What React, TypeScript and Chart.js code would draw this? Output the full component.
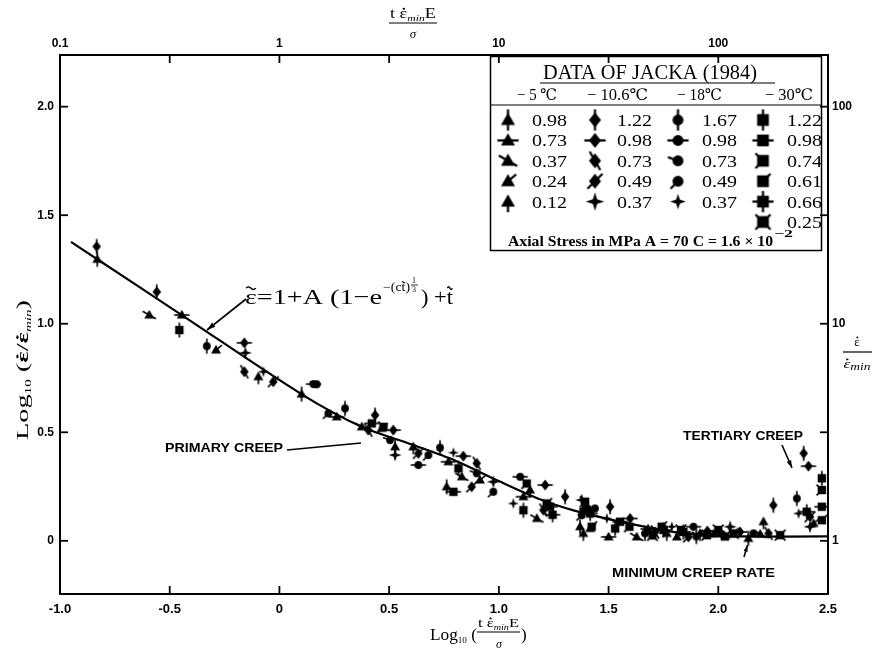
import React, { useEffect, useRef } from 'react';
import { Chart, registerables } from 'chart.js';
Chart.register(...registerables);

// ---------- axes ----------
const xMin = -1.0;
const xMax = 2.5;
const yMin = -0.245;
const yMax = 2.238;
const xTickValues = [-1.0, -0.5, 0, 0.5, 1.0, 1.5, 2.0, 2.5];
const xTickLabels = ['-1.0', '-0.5', '0', '0.5', '1.0', '1.5', '2.0', '2.5'];
const topTickLabels = ['0.1', '', '1', '', '10', '', '100', ''];
const yTickValues = [0, 0.5, 1.0, 1.5, 2.0];
const yTickLabels = ['0', '0.5', '1.0', '1.5', '2.0'];
const rightTickLabels = ['1', '', '10', '', '100'];

// ---------- fitted curve  ε̃ = 1 + A(1 − e^{−(Ct̃)^{1/3}}) + t̃ ----------
const fitX = [-0.95, -0.83, -0.445, 0.1, 0.375, 0.6, 0.8, 1.0, 1.19, 1.34, 1.5, 1.675, 1.8, 1.95, 2.1, 2.5];
const fitY = [1.377, 1.297, 1.04, 0.676, 0.525, 0.445, 0.37, 0.275, 0.19, 0.14, 0.1, 0.063, 0.04, 0.025, 0.02, 0.02];

// ---------- data of Jacka (1984): [log10(t·ε̇min·E/σ), log10(ε̇/ε̇min)] ----------
// -5 ℃
const m5_098 = [[-0.83, 1.297], [0.101, 0.676], [0.527, 0.433], [0.762, 0.249], [1.37, 0.065], [1.765, 0.034], [2.137, 0.011]];
const m5_073 = [[-0.445, 1.04], [0.261, 0.571], [0.77, 0.364], [1.112, 0.203], [1.5, 0.018], [1.978, 0.031], [1.68, 0.055]];
const m5_037 = [[-0.593, 1.04], [0.375, 0.525], [0.831, 0.295], [1.173, 0.103], [1.628, 0.018], [2.191, 0.031]];
const m5_024 = [[-0.289, 0.879], [0.466, 0.518], [0.914, 0.28], [1.416, 0.057], [1.811, 0.018], [2.434, 0.08]];
const m5_012 = [[-0.096, 0.756], [0.61, 0.433], [1.142, 0.234], [1.385, 0.034], [1.917, 0.034], [2.206, 0.088]];
// -10.6 ℃
const m106_122 = [[-0.833, 1.356], [-0.559, 1.147], [0.436, 0.579], [1.302, 0.203], [1.507, 0.157], [2.251, 0.164], [2.389, 0.403]];
const m106_098 = [[-0.16, 0.912], [0.519, 0.51], [0.838, 0.39], [1.211, 0.257], [1.598, 0.103], [2.099, 0.041], [2.411, 0.344], [1.95, 0.045]];
const m106_073 = [[-0.16, 0.779], [0.405, 0.51], [0.899, 0.357], [1.203, 0.141], [1.712, 0.041], [2.229, 0.034]];
const m106_049 = [[-0.028, 0.733], [0.633, 0.403], [0.876, 0.249], [1.385, 0.141], [1.864, 0.018], [2.418, 0.111]];
const m106_037 = [[-0.155, 0.866], [0.527, 0.395], [0.975, 0.272], [1.378, 0.188], [2.054, 0.065], [2.418, 0.065]];
// -18 ℃
const m18_167 = [[-0.331, 0.897], [0.299, 0.61], [0.732, 0.429], [1.666, 0.034], [2.358, 0.195], [1.9, 0.02]];
const m18_098 = [[0.155, 0.722], [0.633, 0.349], [1.097, 0.295], [1.4, 0.149], [1.887, 0.065]];
const m18_073 = [[0.17, 0.721], [0.504, 0.464], [0.899, 0.311], [1.438, 0.149], [2.016, 0.031]];
const m18_049 = [[0.223, 0.587], [0.679, 0.395], [0.975, 0.226], [1.378, 0.118], [2.16, 0.034]];
const m18_037 = [[-0.073, 0.779], [0.793, 0.406], [1.066, 0.172], [1.492, 0.103], [1.788, 0.065], [2.366, 0.126]];
// -30 ℃
const m30_122 = [[-0.456, 0.971], [0.816, 0.334], [1.112, 0.141], [1.53, 0.057], [2.472, 0.288]];
const m30_098 = [[0.421, 0.541], [0.793, 0.226], [1.233, 0.157], [1.552, 0.088], [2.472, 0.157]];
const m30_074 = [[0.474, 0.525], [1.127, 0.264], [1.393, 0.18], [1.595, 0.065], [1.948, 0.026], [2.472, 0.234]];
const m30_061 = [[1.218, 0.172], [1.423, 0.065], [1.742, 0.065], [2.472, 0.095], [2.03, 0.02]];
const m30_066 = [[1.245, 0.12], [1.416, 0.126], [1.841, 0.041], [2.403, 0.134], [1.75, 0.05]];
const m30_025 = [[2.069, 0.034], [2.282, 0.026], [1.7, 0.025], [1.83, 0.05], [2.0, 0.05]];

const temperatures = ['− 5 ℃', '− 10.6℃', '− 18℃', '− 30℃'];

const SERIES = [
  { col: 0, label: '0.98', shape: 'tri', spikes: [90, 270], data: m5_098 },
  { col: 0, label: '0.73', shape: 'tri', spikes: [0, 180], data: m5_073 },
  { col: 0, label: '0.37', shape: 'tri', spikes: [150, 330], data: m5_037 },
  { col: 0, label: '0.24', shape: 'tri', spikes: [40], data: m5_024 },
  { col: 0, label: '0.12', shape: 'tri', spikes: [270], data: m5_012 },
  { col: 1, label: '1.22', shape: 'dia', spikes: [90, 270], data: m106_122 },
  { col: 1, label: '0.98', shape: 'dia', spikes: [0, 180], data: m106_098 },
  { col: 1, label: '0.73', shape: 'dia', spikes: [120, 300], data: m106_073 },
  { col: 1, label: '0.49', shape: 'dia', spikes: [45, 225], data: m106_049 },
  { col: 1, label: '0.37', shape: 'star', spikes: [], data: m106_037 },
  { col: 2, label: '1.67', shape: 'circ', spikes: [90, 270], data: m18_167 },
  { col: 2, label: '0.98', shape: 'circ', spikes: [0, 180], data: m18_098 },
  { col: 2, label: '0.73', shape: 'circ', spikes: [160], data: m18_073 },
  { col: 2, label: '0.49', shape: 'circ', spikes: [225], data: m18_049 },
  { col: 2, label: '0.37', shape: 'starS', spikes: [], data: m18_037 },
  { col: 3, label: '1.22', shape: 'sq', spikes: [90, 270], data: m30_122 },
  { col: 3, label: '0.98', shape: 'sq', spikes: [0, 180], data: m30_098 },
  { col: 3, label: '0.74', shape: 'sq', spikes: [135, 225], data: m30_074 },
  { col: 3, label: '0.61', shape: 'sq', spikes: [45], data: m30_061 },
  { col: 3, label: '0.66', shape: 'sq', spikes: [0, 90, 180, 270], data: m30_066 },
  { col: 3, label: '0.25', shape: 'sq', spikes: [45, 135, 225, 315], data: m30_025 },
];

const SERIF = '"Liberation Serif", "DejaVu Serif", serif';
const SANS = '"Liberation Sans", "DejaVu Sans", sans-serif';

function makeMarker(shape: string, spikes: number[], k: number) {
  const size = Math.ceil(22 * k);
  const c = document.createElement('canvas');
  c.width = size;
  c.height = size;
  const g = c.getContext('2d') as CanvasRenderingContext2D;
  g.translate(size / 2, size / 2);
  g.scale(k, k);
  g.fillStyle = '#000';
  g.strokeStyle = '#000';
  g.lineWidth = 1.6;
  g.beginPath();
  if (shape === 'tri') {
    g.moveTo(0, -5.2); g.lineTo(5, 3.6); g.lineTo(-5, 3.6); g.closePath();
  } else if (shape === 'dia') {
    g.moveTo(0, -5.4); g.lineTo(4.3, 0); g.lineTo(0, 5.4); g.lineTo(-4.3, 0); g.closePath();
  } else if (shape === 'star' || shape === 'starS') {
    const R = shape === 'star' ? 6.6 : 5.6;
    const r = shape === 'star' ? 2.2 : 1.9;
    for (let i = 0; i < 8; i++) {
      const a = (i * Math.PI) / 4 - Math.PI / 2;
      const rr = i % 2 === 0 ? R : r;
      const px = Math.cos(a) * rr, py = Math.sin(a) * rr;
      if (i === 0) g.moveTo(px, py); else g.lineTo(px, py);
    }
    g.closePath();
  } else if (shape === 'circ') {
    g.arc(0, 0, 3.9, 0, Math.PI * 2);
  } else {
    g.rect(-4.2, -4.2, 8.4, 8.4);
  }
  g.fill();
  spikes.forEach((deg) => {
    const a = (deg * Math.PI) / 180;
    g.beginPath();
    g.moveTo(0, 0);
    g.lineTo(Math.cos(a) * 7.6, -Math.sin(a) * 7.6);
    g.stroke();
  });
  return c;
}

type Seg = { t: string; f: string; dy?: number; mark?: string };
function drawSegs(ctx: CanvasRenderingContext2D, segs: Seg[], x: number, y: number, w?: number, align?: string) {
  let total = 0;
  const ws = segs.map((s) => {
    ctx.font = s.f;
    const m = ctx.measureText(s.t).width;
    total += m;
    return m;
  });
  const k = w ? w / total : 1;
  let sx = x;
  if (align === 'center') sx = x - (total * k) / 2;
  ctx.save();
  ctx.translate(sx, y);
  ctx.scale(k, 1);
  ctx.textAlign = 'left';
  ctx.textBaseline = 'alphabetic';
  let cx = 0;
  segs.forEach((s, i) => {
    ctx.font = s.f;
    const dy = s.dy || 0;
    ctx.fillText(s.t, cx, dy);
    const fm = /(\d+(?:\.\d+)?)px/.exec(s.f);
    const fs = fm ? parseFloat(fm[1]) : 14;
    if (s.mark === 'dot') {
      ctx.beginPath();
      ctx.arc(cx + ws[i] * 0.55, dy - fs * 0.66, Math.max(0.9, fs * 0.07), 0, Math.PI * 2);
      ctx.fill();
    } else if (s.mark === 'tilde') {
      const x0 = cx + ws[i] * 0.1, x1 = cx + ws[i] * 0.9, yy = dy - fs * 0.72, amp = fs * 0.06;
      ctx.save();
      ctx.lineWidth = Math.max(0.9, fs * 0.06);
      ctx.beginPath();
      for (let j = 0; j <= 12; j++) {
        const px = x0 + ((x1 - x0) * j) / 12;
        const py = yy - Math.sin((j / 12) * Math.PI * 2) * amp;
        if (j === 0) ctx.moveTo(px, py); else ctx.lineTo(px, py);
      }
      ctx.stroke();
      ctx.restore();
    }
    cx += ws[i];
  });
  ctx.restore();
}
function fitText(ctx: CanvasRenderingContext2D, t: string, x: number, y: number, w: number, f: string) {
  drawSegs(ctx, [{ t, f }], x, y, w);
}
function line(ctx: CanvasRenderingContext2D, x1: number, y1: number, x2: number, y2: number) {
  ctx.beginPath(); ctx.moveTo(x1, y1); ctx.lineTo(x2, y2); ctx.stroke();
}
function arrow(ctx: CanvasRenderingContext2D, x1: number, y1: number, x2: number, y2: number, hl: number) {
  line(ctx, x1, y1, x2, y2);
  const a = Math.atan2(y2 - y1, x2 - x1);
  ctx.beginPath();
  ctx.moveTo(x2, y2);
  ctx.lineTo(x2 - hl * Math.cos(a - 0.3), y2 - hl * Math.sin(a - 0.3));
  ctx.lineTo(x2 - hl * Math.cos(a + 0.3), y2 - hl * Math.sin(a + 0.3));
  ctx.closePath();
  ctx.fill();
}

export default function App() {
  const ref = useRef<HTMLCanvasElement | null>(null);
  useEffect(() => {
    if (!ref.current) return;
    const plotMarkers = SERIES.map((s) => makeMarker(s.shape, s.spikes, 1));
    const legendMarkers = SERIES.map((s) => makeMarker(s.shape, s.spikes, 1.4));

    const decor = {
      id: 'decor',
      beforeDraw(chart: any) {
        const c = chart.ctx;
        c.save();
        c.fillStyle = '#fff';
        c.fillRect(0, 0, chart.width, chart.height);
        c.restore();
      },
      afterDraw(chart: any) {
        const ctx: CanvasRenderingContext2D = chart.ctx;
        const a = chart.chartArea;
        const sc = chart.scales;
        ctx.save();
        ctx.strokeStyle = '#000';
        ctx.fillStyle = '#000';
        ctx.lineWidth = 1.8;
        // inward tick marks
        sc.x.ticks.forEach((t: any) => { const p = sc.x.getPixelForValue(t.value); line(ctx, p, a.bottom, p, a.bottom - 8); });
        sc.x2.ticks.forEach((t: any) => { const p = sc.x2.getPixelForValue(t.value); line(ctx, p, a.top, p, a.top + 8); });
        sc.y.ticks.forEach((t: any) => { const p = sc.y.getPixelForValue(t.value); line(ctx, a.left, p, a.left + 8, p); });
        sc.y2.ticks.forEach((t: any) => { const p = sc.y2.getPixelForValue(t.value); line(ctx, a.right, p, a.right - 8, p); });

        // ---- axis titles ----
        // top
        drawSegs(ctx, [
          { t: 't ', f: `14px ${SERIF}` }, { t: 'ε', f: `14px ${SERIF}`, mark: 'dot' },
          { t: 'min', f: `italic 9px ${SERIF}`, dy: 3 }, { t: 'E', f: `14px ${SERIF}` },
        ], 390, 18, 46);
        ctx.lineWidth = 1.2;
        line(ctx, 389, 23, 437, 23);
        drawSegs(ctx, [{ t: 'σ', f: `italic 13px ${SERIF}` }], 413, 38, undefined, 'center');
        // bottom
        drawSegs(ctx, [
          { t: 'Log', f: `17px ${SERIF}` }, { t: '10', f: `9px ${SERIF}`, dy: 3 },
          { t: ' (', f: `17px ${SERIF}` },
        ], 430, 640, 47);
        drawSegs(ctx, [
          { t: 't ', f: `13px ${SERIF}` }, { t: 'ε', f: `13px ${SERIF}`, mark: 'dot' },
          { t: 'min', f: `italic 8px ${SERIF}`, dy: 3 }, { t: 'E', f: `13px ${SERIF}` },
        ], 478, 627, 41);
        line(ctx, 477, 632, 520, 632);
        drawSegs(ctx, [{ t: 'σ', f: `italic 12px ${SERIF}` }], 499, 648, undefined, 'center');
        drawSegs(ctx, [{ t: ')', f: `17px ${SERIF}` }], 521, 640);
        // left (rotated)
        ctx.save();
        ctx.translate(28, 370);
        ctx.rotate(-Math.PI / 2);
        drawSegs(ctx, [
          { t: 'Log', f: `17px ${SERIF}` }, { t: '10', f: `9px ${SERIF}`, dy: 3 },
          { t: ' (', f: `17px ${SERIF}` }, { t: 'ε', f: `bold 16px ${SERIF}`, mark: 'dot' }, { t: '/', f: `17px ${SERIF}` },
          { t: 'ε', f: `bold 16px ${SERIF}`, mark: 'dot' }, { t: 'min', f: `italic 9px ${SERIF}`, dy: 3 }, { t: ')', f: `17px ${SERIF}` },
        ], 0, 0, 140, 'center');
        ctx.restore();
        // right
        drawSegs(ctx, [{ t: 'ε', f: `13px ${SERIF}`, mark: 'dot' }], 857, 346, undefined, 'center');
        line(ctx, 843, 352, 872, 352);
        drawSegs(ctx, [{ t: 'ε', f: `italic 13px ${SERIF}`, mark: 'dot' }, { t: 'min', f: `italic 10px ${SERIF}`, dy: 2 }], 857, 368, 27, 'center');

        // ---- equation ----
        ctx.lineWidth = 1.6;
        drawSegs(ctx, [
          { t: 'ε', f: `22px ${SERIF}`, mark: 'tilde' },
          { t: '=1+A (1−e', f: `22px ${SERIF}` },
        ], 245, 304, 137);
        drawSegs(ctx, [
          { t: '−(c', f: `12px ${SERIF}` }, { t: 't', f: `12px ${SERIF}`, mark: 'tilde' }, { t: ')', f: `12px ${SERIF}` },
        ], 383, 291, 27);
        fitText(ctx, '1', 412, 283, 4, `8px ${SERIF}`);
        ctx.lineWidth = 0.8;
        line(ctx, 411, 285, 418, 285);
        fitText(ctx, '3', 412, 292, 4, `8px ${SERIF}`);
        drawSegs(ctx, [
          { t: ') +', f: `22px ${SERIF}` }, { t: 't', f: `22px ${SERIF}`, mark: 'tilde' },
        ], 421, 304, 32);
        ctx.lineWidth = 1.6;
        arrow(ctx, 246, 299, 207, 330, 9);

        // ---- annotations ----
        fitText(ctx, 'PRIMARY CREEP', 165, 452, 118, `bold 12px ${SANS}`);
        line(ctx, 287, 450, 361, 443);
        fitText(ctx, 'TERTIARY CREEP', 683, 440, 120, `bold 12px ${SANS}`);
        arrow(ctx, 782, 445, 792, 468, 8);
        fitText(ctx, 'MINIMUM CREEP RATE', 612, 577, 163, `bold 12px ${SANS}`);
        arrow(ctx, 744, 557, 747.5, 545, 7);

        // ---- legend table ----
        ctx.lineWidth = 1.5;
        ctx.strokeRect(490.5, 56.5, 331, 194);
        fitText(ctx, 'DATA OF JACKA (1984)', 543, 79, 214, `20px ${SERIF}`);
        ctx.lineWidth = 1.2;
        line(ctx, 540, 83, 775, 83);
        const hx = [517, 587, 677, 765];
        const hw = [40, 61, 45, 48];
        temperatures.forEach((t, i) => fitText(ctx, t, hx[i], 100, hw[i], `16px ${SERIF}`));
        line(ctx, 490, 105, 822, 105);
        const mx = [508, 595, 678, 763];
        const vx = [532, 617, 702, 787];
        const rowCount = [0, 0, 0, 0];
        SERIES.forEach((s, i) => {
          const r = rowCount[s.col]++;
          const cy = 120 + r * 20.4;
          const img = legendMarkers[i];
          ctx.drawImage(img, mx[s.col] - img.width / 2, cy - img.height / 2);
          fitText(ctx, s.label, vx[s.col], cy + 6, 35, `17px ${SERIF}`);
        });
        fitText(ctx, 'Axial Stress in MPa A = 70 C = 1.6 × 10', 508, 246, 265, `bold 15px ${SERIF}`);
        fitText(ctx, '−2', 774, 237, 19, `bold 11px ${SERIF}`);
        ctx.restore();
      },
    };

    const tickFont = { family: 'Liberation Sans', weight: 'bold' as const, size: 13 };
    const common = {
      grid: { display: false, drawTicks: false },
      border: { display: true, color: '#000', width: 2 },
    };

    const datasets: any[] = SERIES.map((s, i) => ({
      label: `${temperatures[s.col]} ${s.label}`,
      data: s.data.map(([x, y]) => ({ x, y })),
      pointStyle: plotMarkers[i],
      pointRadius: 4,
      showLine: false,
    }));
    datasets.push({
      label: 'fit',
      data: fitX.map((x, i) => ({ x, y: fitY[i] })),
      showLine: true,
      pointRadius: 0,
      borderColor: '#000',
      borderWidth: 2.2,
      tension: 0.3,
      fill: false,
    });

    const chart = new Chart(ref.current, {
      type: 'scatter',
      data: { datasets },
      plugins: [decor],
      options: {
        animation: false,
        responsive: false,
        devicePixelRatio: 1,
        events: [],
        layout: { padding: 0 },
        plugins: { legend: { display: false }, tooltip: { enabled: false } },
        scales: {
          x: {
            type: 'linear', position: 'bottom', min: xMin, max: xMax, ...common,
            afterFit: (s: any) => { s.height = 60; },
            afterBuildTicks: (s: any) => { s.ticks = xTickValues.map((v) => ({ value: v })); },
            ticks: {
              autoSkip: false, maxRotation: 0, padding: 8, color: '#000', font: tickFont,
              callback: (v: any) => xTickLabels[xTickValues.indexOf(Number(v))] ?? '',
            },
          },
          x2: {
            type: 'linear', position: 'top', min: xMin, max: xMax, ...common,
            afterFit: (s: any) => { s.height = 55; },
            afterBuildTicks: (s: any) => { s.ticks = xTickValues.map((v) => ({ value: v })); },
            ticks: {
              autoSkip: false, maxRotation: 0, padding: 4, color: '#000', font: { ...tickFont, size: 12 },
              callback: (v: any) => topTickLabels[xTickValues.indexOf(Number(v))] ?? '',
            },
          },
          y: {
            type: 'linear', position: 'left', min: yMin, max: yMax, ...common,
            afterFit: (s: any) => { s.width = 60; },
            afterBuildTicks: (s: any) => { s.ticks = yTickValues.map((v) => ({ value: v })); },
            ticks: {
              autoSkip: false, padding: 6, color: '#000', font: { ...tickFont, size: 12 },
              callback: (v: any) => yTickLabels[yTickValues.indexOf(Number(v))] ?? '',
            },
          },
          y2: {
            type: 'linear', position: 'right', min: yMin, max: yMax, ...common,
            afterFit: (s: any) => { s.width = 49; },
            afterBuildTicks: (s: any) => {
              s.ticks = [0, 0.5, 1.0, 1.5, 2.0].map((v) => ({ value: v }));
            },
            ticks: {
              autoSkip: false, padding: 4, color: '#000', font: { ...tickFont, size: 12 },
              callback: (v: any) => rightTickLabels[[0, 0.5, 1.0, 1.5, 2.0].indexOf(Number(v))] ?? '',
            },
          },
        },
      } as any,
    });
    return () => chart.destroy();
  }, []);

  return (
    <div style={{ position: 'absolute', left: 0, top: 0, width: 877, height: 654, background: '#fff' }}>
      <canvas ref={ref} width={877} height={654} style={{ display: 'block', width: 877, height: 654 }} />
    </div>
  );
}
